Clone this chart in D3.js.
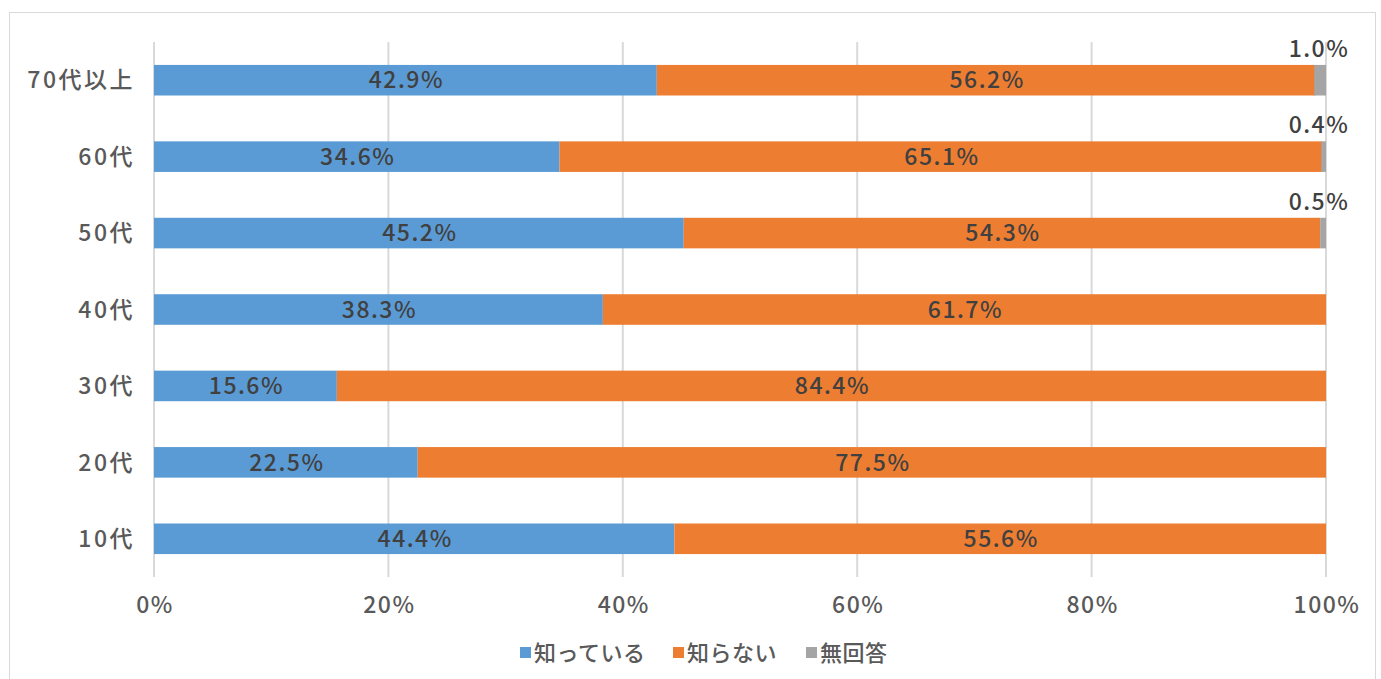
<!DOCTYPE html>
<html>
<head>
<meta charset="utf-8">
<script src="https://cdn.jsdelivr.net/npm/d3@7"></script>
<style>
  body { margin: 0; background: #fff; }
  svg text { font-family: "Noto Sans CJK JP", "Noto Sans", sans-serif; font-weight: 500; letter-spacing: 1.5px; }
</style>
</head>
<body>
<svg id="chart" width="1381" height="679"></svg>
<script>
// data
const categories = ["70代以上", "60代", "50代", "40代", "30代", "20代", "10代"];
const seriesNames = ["知っている", "知らない", "無回答"];
const known = [42.9, 34.6, 45.2, 38.3, 15.6, 22.5, 44.4];
const unknown = [56.2, 65.1, 54.3, 61.7, 84.4, 77.5, 55.6];
const noAnswer = [1.0, 0.4, 0.5, 0, 0, 0, 0];
const xTicks = [0, 20, 40, 60, 80, 100];
const colors = ["#5b9bd5", "#ed7d31", "#a5a5a5"];

const svg = d3.select("#chart");

// outer frame
svg.append("rect")
    .attr("x", 9.5).attr("y", 12.5)
    .attr("width", 1366).attr("height", 700)
    .attr("fill", "none").attr("stroke", "#d9d9d9");

const plotLeft = 154, plotRight = 1326, plotTop = 42, plotBottom = 577;

let x = d3.scaleLinear().domain([0, 100]).range([plotLeft, plotRight]);
let y = d3.scaleBand().domain(categories).range([plotTop, plotBottom]).paddingInner(0.6).paddingOuter(0.3);

// grid
svg.append("g")
    .selectAll("line")
    .data(xTicks)
    .enter().append("line")
    .attr("x1", d => x(d)).attr("x2", d => x(d))
    .attr("y1", plotTop).attr("y2", plotBottom)
    .attr("stroke", "#d9d9d9").attr("stroke-width", 2);

// stacked rows
let rows = categories.map((c, i) => {
    let vals = [known[i], unknown[i], noAnswer[i]];
    let start = 0;
    return vals.map((v, j) => {
        let seg = { cat: c, s: j, v: v, x0: start, x1: start + v };
        start += v;
        return seg;
    });
});
let segs = rows.flat().filter(d => d.v > 0);

svg.append("g")
    .selectAll("rect")
    .data(segs)
    .enter().append("rect")
    .attr("x", d => x(Math.min(d.x0, 100 - d.v)))
    .attr("width", d => x(d.v) - x(0))
    .attr("y", d => y(d.cat))
    .attr("height", y.bandwidth())
    .attr("fill", d => colors[d.s]);

// data labels
svg.append("g")
    .selectAll("text")
    .data(segs)
    .enter().append("text")
    .attr("x", d => d.s == 2 ? x(100) - 7 : x((d.x0 + Math.min(d.x1, 100)) / 2) + 1)
    .attr("y", d => d.s == 2 ? y(d.cat) - 8 : y(d.cat) + y.bandwidth() / 2)
    .attr("dy", d => d.s == 2 ? 0 : "0.36em")
    .attr("text-anchor", "middle")
    .attr("font-size", 23)
    .attr("fill", "#404040")
    .text(d => d.v.toFixed(1) + "%");

// y labels
svg.append("g")
    .selectAll("text")
    .data(categories)
    .enter().append("text")
    .attr("x", plotLeft - 19)
    .attr("y", d => y(d) + y.bandwidth() / 2)
    .attr("dy", "0.36em")
    .attr("text-anchor", "end")
    .attr("font-size", 23)
    .style("letter-spacing", "2.5px")
    .attr("fill", "#595959")
    .text(d => d);

// x tick labels
svg.append("g")
    .selectAll("text")
    .data(xTicks)
    .enter().append("text")
    .attr("x", d => x(d) + 1)
    .attr("y", 605)
    .attr("dy", "0.36em")
    .attr("text-anchor", "middle")
    .attr("font-size", 23)
    .attr("fill", "#595959")
    .text(d => d + "%");

// legend
let legendX = [520, 673, 806];
let lg = svg.append("g")
    .selectAll("g")
    .data(seriesNames)
    .enter().append("g")
    .attr("transform", (d, i) => "translate(" + legendX[i] + ",653)");
lg.append("rect")
    .attr("x", 0).attr("y", -6)
    .attr("width", 11).attr("height", 11)
    .attr("fill", (d, i) => colors[i]);
lg.append("text")
    .attr("x", 14)
    .attr("dy", "0.36em")
    .attr("font-size", 22)
    .style("letter-spacing", "0.5px")
    .attr("fill", "#595959")
    .text(d => d);
</script>
</body>
</html>
